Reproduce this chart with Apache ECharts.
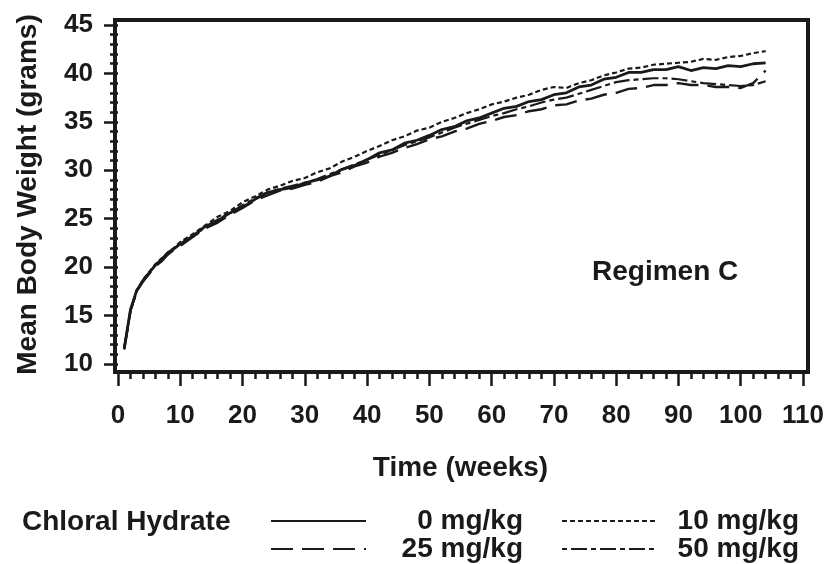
<!DOCTYPE html>
<html>
<head>
<meta charset="utf-8">
<script src="https://cdn.jsdelivr.net/npm/echarts@6/dist/echarts.min.js"></script>
<style>
  html, body { margin: 0; padding: 0; background: #fff; }
  #chart { width: 833px; height: 564px; }
</style>
</head>
<body>
<div id="chart"></div>
<script>
// 周数（前10周逐周，之后每2周）
const weeks = [1, 2, 3, 4, 5, 6, 7, 8, 9, 10,
  12, 14, 16, 18, 20, 22, 24, 26, 28, 30,
  32, 34, 36, 38, 40, 42, 44, 46, 48, 50,
  52, 54, 56, 58, 60, 62, 64, 66, 68, 70,
  72, 74, 76, 78, 80, 82, 84, 86, 88, 90,
  92, 94, 96, 98, 100, 102, 104]

// 各剂量组平均体重 (grams)
const dose0 = [11.6, 15.6, 17.6, 18.6, 19.4, 20.2, 20.8, 21.5, 21.9, 22.4,
  23.2, 24.2, 24.8, 25.6, 26.2, 27.0, 27.7, 28.0, 28.2, 28.7,
  29.0, 29.4, 30.1, 30.5, 31.1, 31.8, 32.1, 32.8, 33.1, 33.6,
  34.2, 34.5, 35.1, 35.4, 35.9, 36.4, 36.6, 37.1, 37.3, 37.8,
  38.0, 38.6, 38.8, 39.4, 39.6, 40.1, 40.1, 40.4, 40.4, 40.7,
  40.3, 40.6, 40.5, 40.8, 40.7, 41.0, 41.1]
const dose10 = [11.7, 15.4, 17.5, 18.7, 19.5, 20.3, 20.9, 21.5, 22.0, 22.6,
  23.4, 24.3, 25.2, 25.8, 26.7, 27.3, 28.0, 28.4, 28.9, 29.2,
  29.8, 30.2, 30.9, 31.4, 32.0, 32.5, 33.1, 33.5, 34.1, 34.4,
  35.0, 35.4, 35.9, 36.3, 36.8, 37.1, 37.5, 37.8, 38.3, 38.6,
  38.5, 39.0, 39.3, 39.8, 40.1, 40.5, 40.6, 40.9, 41.0, 41.1,
  41.2, 41.5, 41.4, 41.7, 41.8, 42.1, 42.3]
const dose25 = [11.5, 15.5, 17.5, 18.5, 19.3, 20.1, 20.6, 21.3, 21.8, 22.2,
  23.1, 24.0, 24.6, 25.4, 26.1, 26.9, 27.4, 27.9, 28.1, 28.5,
  28.8, 29.4, 29.8, 30.4, 30.8, 31.4, 31.8, 32.3, 32.7, 33.2,
  33.5, 34.0, 34.3, 34.8, 35.1, 35.5, 35.7, 36.1, 36.3, 36.7,
  36.8, 37.2, 37.4, 37.8, 38.0, 38.4, 38.5, 38.8, 38.8, 39.0,
  38.8, 38.8, 38.6, 38.6, 38.5, 39.0, 40.3]
const dose50 = [11.6, 15.5, 17.6, 18.6, 19.4, 20.2, 20.8, 21.3, 21.9, 22.4,
  23.2, 24.1, 24.9, 25.6, 26.4, 27.1, 27.7, 28.1, 28.4, 28.7,
  29.1, 29.6, 30.1, 30.6, 31.1, 31.6, 32.1, 32.6, 33.0, 33.4,
  33.9, 34.4, 34.8, 35.2, 35.6, 35.9, 36.3, 36.6, 37.0, 37.3,
  37.5, 37.9, 38.3, 38.7, 39.1, 39.3, 39.4, 39.5, 39.5, 39.4,
  39.2, 39.0, 38.9, 38.8, 38.7, 38.8, 39.2]

const seriesNames = ['0 mg/kg', '10 mg/kg', '25 mg/kg', '50 mg/kg']
const xTicks = { min: 0, max: 110, interval: 10 }
const yTicks = { min: 10, max: 45, interval: 5 }

const ink = '#1a1a1a'
const font = 'Liberation Sans, Arial, sans-serif'
const labelStyle = { color: ink, fontSize: 26, fontWeight: 'bold', fontFamily: font }
const titleStyle = Object.assign({}, labelStyle, { fontSize: 28 })

function pairs(values) {
  return weeks.map((w, i) => [w, values[i]])
}

function lineSeries(name, values, width, type) {
  return {
    name: name,
    type: 'line',
    xAxisIndex: 1,
    yAxisIndex: 1,
    data: pairs(values),
    symbol: 'none',
    symbolSize: 0,
    showSymbol: false,
    lineStyle: { color: ink, width: width, type: type },
    itemStyle: { color: ink },
    emphasis: { disabled: true }
  }
}

// 图例：图标固定位置，文字右对齐
function legendRow(names, top) {
  return {
    data: names,
    left: 270,
    top: top,
    padding: 0,
    itemWidth: 95,
    itemHeight: 14,
    itemGap: 38,
    selectedMode: false,
    itemStyle: { opacity: 0 },
    formatter: (name) => (name === names[0] ? `{a|${name}}` : `{b|${name}}`),
    textStyle: {
      rich: {
        a: Object.assign({ width: 152, align: 'right' }, titleStyle),
        b: Object.assign({ width: 137, align: 'right' }, titleStyle)
      }
    }
  }
}

const chart = echarts.init(document.getElementById('chart'))

const option = {
  animation: false,
  backgroundColor: '#fff',
  title: [
    { text: 'Chloral Hydrate', left: 22, top: 508, padding: 0, textStyle: titleStyle },
    { text: 'Regimen C', left: 592, top: 258, padding: 0, textStyle: titleStyle }
  ],
  // grid 0 = 外框, grid 1 = 数据区
  grid: [
    { left: 115, right: 25, top: 20, bottom: 192, show: true,
      borderColor: ink, borderWidth: 4, backgroundColor: 'transparent', outerBoundsMode: 'none' },
    { left: 118, right: 30, top: 25, bottom: 200, outerBoundsMode: 'none' }
  ],
  xAxis: [
    { gridIndex: 0, type: 'value', show: false, min: 0, max: 1 },
    {
      gridIndex: 1,
      type: 'value',
      min: xTicks.min,
      max: xTicks.max,
      interval: xTicks.interval,
      offset: 7,
      name: 'Time (weeks)',
      nameLocation: 'middle',
      nameGap: 83,
      nameTextStyle: titleStyle,
      axisLine: { show: false },
      axisTick: { show: true, length: 15, lineStyle: { color: ink, width: 2.5 } },
      minorTick: { show: true, splitNumber: 5, length: 8, lineStyle: { color: ink, width: 2.5 } },
      axisLabel: Object.assign({ margin: 32 }, labelStyle),
      splitLine: { show: false }
    }
  ],
  yAxis: [
    { gridIndex: 0, type: 'value', show: false, min: 0, max: 1 },
    {
      gridIndex: 1,
      type: 'value',
      min: yTicks.min,
      max: yTicks.max,
      interval: yTicks.interval,
      offset: 3,
      name: 'Mean Body Weight (grams)',
      nameLocation: 'middle',
      nameGap: 73,
      nameRotate: 90,
      nameTextStyle: titleStyle,
      axisLine: { show: false },
      axisTick: { show: true, length: 14, lineStyle: { color: ink, width: 2.5 } },
      minorTick: { show: true, splitNumber: 5, length: 8, lineStyle: { color: ink, width: 2.5 } },
      axisLabel: Object.assign({ margin: 22 }, labelStyle),
      splitLine: { show: false }
    }
  ],
  legend: [
    legendRow([seriesNames[0], seriesNames[1]], 507),
    legendRow([seriesNames[2], seriesNames[3]], 535)
  ],
  series: [
    lineSeries(seriesNames[1], dose10, 2.2, [5, 3]),
    lineSeries(seriesNames[2], dose25, 2.4, [22, 9]),
    lineSeries(seriesNames[3], dose50, 2.2, [5, 4, 16, 4]),
    lineSeries(seriesNames[0], dose0, 2.8, 'solid')
  ]
}

chart.setOption(option)
</script>
</body>
</html>
